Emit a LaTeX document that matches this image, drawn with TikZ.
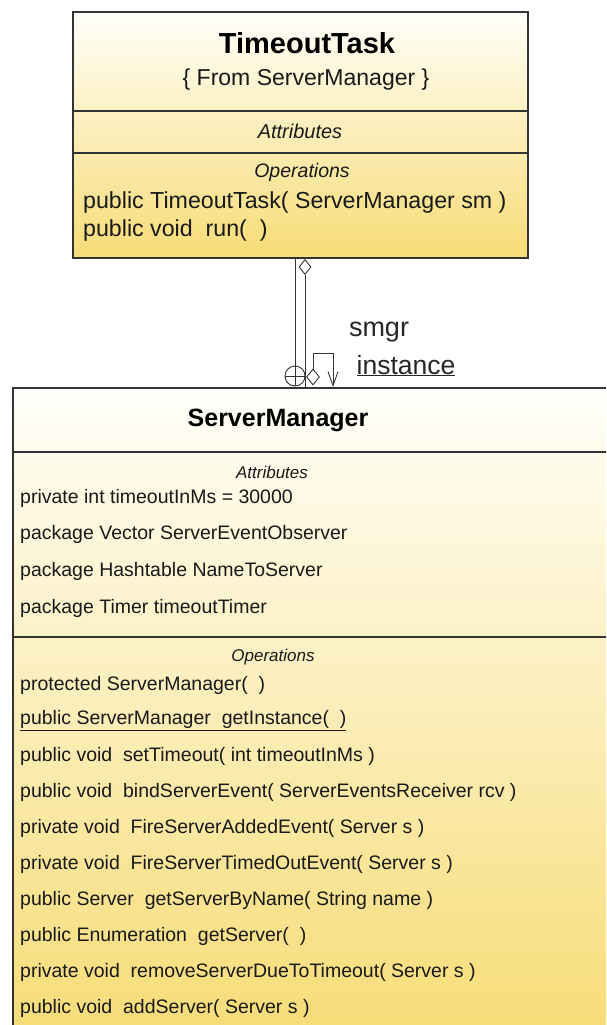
\documentclass[tikz,border=0pt]{standalone}
\usepackage{fontspec}
\setmainfont{Liberation Sans}
\usepackage{tikz}
\usetikzlibrary{positioning,arrows.meta,shapes.geometric}
\usepackage{xcolor}
\definecolor{BoxLine}{HTML}{333333}
\definecolor{BoxTop}{HTML}{FFFFFA}
\definecolor{BoxBottom}{HTML}{F7DC76}

\newcommand{\umlfont}[1]{\fontsize{#1}{#1}\selectfont}

\tikzset{
  classbox/.style={draw=BoxLine, line width=1.6pt, top color=BoxTop,
    bottom color=BoxBottom, anchor=north west, inner sep=0pt},
  sepline/.style={draw=BoxLine, line width=1.6pt},
  member/.style={anchor=west, inner sep=0pt, text=black!90},
  conn/.style={draw=black!80, line width=0.9pt},
  endmark/.style={draw=black!80, line width=0.9pt, fill=white, inner sep=0pt},
}

\begin{document}
\begin{tikzpicture}[x=1pt,y=-1pt]
    \useasboundingbox (0,0) rectangle (606,1025);
    \clip (0,0) rectangle (606,1025);

    % TimeoutTask
    \node[classbox, minimum width=455pt, minimum height=246pt] (tt) at (72,11) {};
    \draw[sepline] (tt.west |- 0,111) -- (tt.east |- 0,111);
    \draw[sepline] (tt.west |- 0,153) -- (tt.east |- 0,153);
    \node[inner sep=0pt, font=\umlfont{29}\bfseries] (ttname) at (307,43) {TimeoutTask};
    \node[inner sep=0pt, font=\umlfont{23}, text=black!90] (ttfrom) at (306,80) {\{ From ServerManager \}};
    \node[inner sep=0pt, font=\umlfont{20}\itshape, text=black!90] (ttattr) at (300,131) {Attributes};
    \node[inner sep=0pt, font=\umlfont{19.5}\itshape, text=black!90] (ttops) at (302,172) {Operations};
    \node[member, font=\umlfont{23.2}] (ttop1) at (83,202) {public TimeoutTask( ServerManager sm )};
    \node[member, font=\umlfont{23.2}] (ttop2) at (83,230) {public void~ run(~ )};

    % ServerManager
    \node[classbox, minimum width=640pt, minimum height=650pt] (sm) at (12,387) {};
    \draw[sepline] (sm.west |- 0,452) -- (sm.east |- 0,452);
    \draw[sepline] (sm.west |- 0,637) -- (sm.east |- 0,637);
    \node[inner sep=0pt, font=\umlfont{25}\bfseries] (smname) at (278,420) {ServerManager};
    \node[inner sep=0pt, font=\umlfont{17}\itshape, text=black!90] (smattr) at (272,472) {Attributes};
    \node[inner sep=0pt, font=\umlfont{17}\itshape, text=black!90] (smops) at (273,657) {Operations};
    \foreach \txt [count=\i] in {
        private int timeoutInMs = 30000,
        package Vector ServerEventObserver,
        package Hashtable NameToServer,
        package Timer timeoutTimer}
      \node[member, font=\umlfont{19.5}] (smat\i) at (20,{498+36.7*(\i-1)}) {\txt};
    \foreach \txt [count=\i] in {
        protected ServerManager(~ ),
        {\underline{public ServerManager~ getInstance(~ )}},
        public void~ setTimeout( int timeoutInMs ),
        public void~ bindServerEvent( ServerEventsReceiver rcv ),
        private void~ FireServerAddedEvent( Server s ),
        private void~ FireServerTimedOutEvent( Server s ),
        public Server~ getServerByName( String name ),
        public Enumeration~ getServer(~ ),
        private void~ removeServerDueToTimeout( Server s ),
        public void~ addServer( Server s )}
      \node[member, font=\umlfont{19.5}] (smop\i) at (20,{685+35.9*(\i-1)}) {\txt};

    % connectors
    \coordinate (nestfrom) at (295,257);
    \node[endmark, circle, minimum size=20pt] (nest) at (295,376) {};
    \draw[conn] (nest.north) -- (nest.south) (nest.west) -- (nest.east);
    \draw[conn] (nestfrom) -- (nest.north);

    \node[endmark, diamond, minimum width=12pt, minimum height=15pt] (agg) at (305,267) {};
    \coordinate (aggto) at (305,387);
    \draw[conn] (agg.south) -- (aggto);
    \node[inner sep=0pt, anchor=base, font=\umlfont{27}, text=black!85] (smgr) at (379,336) {smgr};

    \node[endmark, diamond, minimum width=13pt, minimum height=16pt] (self) at (313,377) {};
    \coordinate (selfto) at (333,387);
    \draw[conn, -{Straight Barb[length=14pt,width=10pt]}] (self.north) |- (333,353) -- (selfto);
    \node[inner sep=0pt, anchor=base, font=\umlfont{26.5}, text=black!85] (inst) at (406,374) {\underline{instance}};
\end{tikzpicture}
\end{document}
